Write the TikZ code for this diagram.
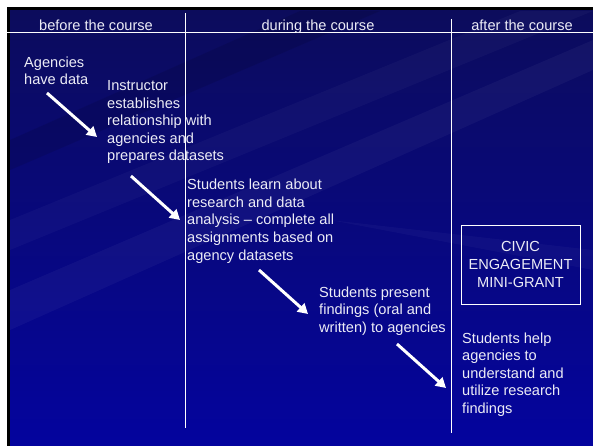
\documentclass[tikz,border=0pt]{standalone}
\usepackage{fontspec}
\setmainfont{Liberation Sans}
\usetikzlibrary{arrows.meta}

\definecolor{slidetop}{RGB}{12,12,92}
\definecolor{slidebot}{RGB}{4,4,158}
\definecolor{slidetext}{RGB}{236,236,246}

\begin{document}
\begin{tikzpicture}[x=1pt, y=-1pt,
    txt/.style={text=slidetext, font=\fontsize{14.6}{17.6}\selectfont, align=left, anchor=base west, inner sep=0pt},
    hdr/.style={text=slidetext, font=\fontsize{14.6}{17.6}\selectfont, anchor=base, inner sep=0pt},
    sep/.style={draw=white, line width=1pt},
    arr/.style={draw=white, line width=3pt, -{Triangle[length=10pt,width=11pt]}}]
        \useasboundingbox (0,0) rectangle (593,446);
        % slide background
        \fill[white] (0,0) rectangle (593,446);
        \fill[black] (7,7) rectangle (593,446);
        \shade[top color=slidetop, bottom color=slidebot] (10,11) rectangle (593,446);
        \fill[white, opacity=0.04] (593,40) -- (593,70) -- (10,330) -- (10,290) -- cycle;
        \fill[white, opacity=0.03] (520,11) -- (593,11) -- (10,250) -- (10,220) -- cycle;
        \fill[black, opacity=0.10] (300,11) -- (380,11) -- (10,170) -- (10,140) -- cycle;
        \fill[white, opacity=0.03] (593,250) -- (593,270) -- (330,220) -- cycle;
        % table lines
        \draw[sep] (7,33) -- (593,33);
        \draw[sep] (185,13) -- (185,428);
        \draw[sep] (451,19) -- (451,433);
        % headers
        \node[hdr] (before) at (96,31) {before the course};
        \node[hdr] (during) at (318,31) {during the course};
        \node[hdr] (after) at (522,31) {after the course};
        % steps (base = last line)
        \node[txt] (havedata) at (24,85) {Agencies\\have data};
        \node[txt] (instructor) at (107,161) {Instructor\\establishes\\relationship with\\agencies and\\prepares datasets};
        \node[txt] (learn) at (187,260) {Students learn about\\research and data\\analysis -- complete all\\assignments based on\\agency datasets};
        \node[txt] (present) at (319,332.5) {Students present\\findings (oral and\\written) to agencies};
        \node[txt] (help) at (462,413.5) {Students help\\agencies to\\understand and\\utilize research\\findings};
        \node[draw=white, line width=0.8pt, text=slidetext, align=center, minimum width=119pt, minimum height=79pt, inner sep=0pt,
              font=\fontsize{14.6}{17.6}\selectfont] (grant) at (520.5,264.5) {CIVIC\\ENGAGEMENT\\MINI-GRANT};
        % arrows
        \coordinate (s1) at (47,93);
        \coordinate (e1) at (97,137);
        \coordinate (s2) at (131,176);
        \coordinate (e2) at (180,220);
        \coordinate (s3) at (259,270);
        \coordinate (e3) at (308,314);
        \coordinate (s4) at (397,344);
        \coordinate (e4) at (446,388);
        \draw[arr] (s1) -- (e1);
        \draw[arr] (s2) -- (e2);
        \draw[arr] (s3) -- (e3);
        \draw[arr] (s4) -- (e4);
    \end{tikzpicture}
\end{document}
